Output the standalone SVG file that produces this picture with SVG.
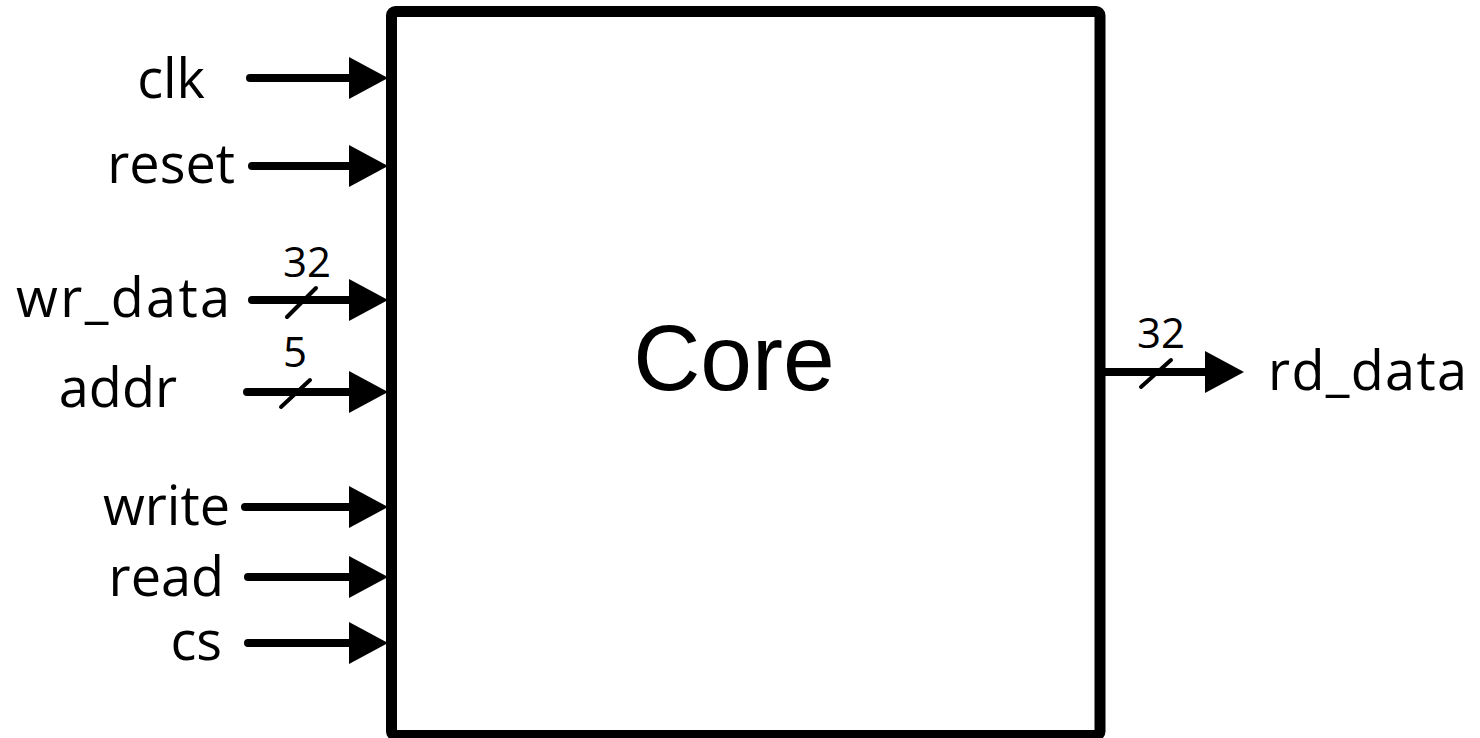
<svg xmlns="http://www.w3.org/2000/svg" width="1480" height="738" viewBox="0 0 1480 738">
  <style>
    .lbl { font-family: "Open Sans", "Noto Sans", sans-serif; font-size: 54px; fill: #000; }
    .bus { font-family: "Open Sans", "Noto Sans", sans-serif; font-size: 42px; fill: #000; text-anchor: middle; }
    .title { font-family: "Liberation Sans", Arial, sans-serif; font-size: 93px; fill: #000; text-anchor: middle; }
    .wire { fill: none; stroke: #000; stroke-width: 8; stroke-linecap: round; marker-end: url(#head); }
    .slash { stroke: #000; stroke-width: 4; stroke-linecap: round; }
  </style>
  <defs>
    <marker id="head" markerUnits="userSpaceOnUse" markerWidth="40" markerHeight="44" refX="0" refY="21" orient="auto" overflow="visible">
      <path d="M0,0 L39,21 L0,42 Z" fill="#000"/>
    </marker>
  </defs>
  <rect width="1480" height="738" fill="#fff"/>

  <!-- core block -->
  <g id="core">
    <rect x="391.5" y="11.5" width="708.5" height="724" rx="4" fill="#fff" stroke="#000" stroke-width="11"/>
    <text class="title" x="734" y="390">Core</text>
  </g>

  <!-- port wires -->
  <g id="connectors">
    <path class="wire" d="M250,78 H349"/>
    <path class="wire" d="M252,166 H349"/>
    <path class="wire" d="M252,300 H349"/>
    <line class="slash" x1="287" y1="317" x2="316" y2="288"/>
    <path class="wire" d="M247,392 H349"/>
    <line class="slash" x1="281" y1="407" x2="310" y2="380"/>
    <path class="wire" d="M245,507 H349"/>
    <path class="wire" d="M248,577 H349"/>
    <path class="wire" d="M248,643 H349"/>
    <path class="wire" d="M1100,372 H1205" style="stroke-linecap:butt"/>
    <line class="slash" x1="1141" y1="387" x2="1171" y2="360"/>
  </g>

  <!-- port labels -->
  <g id="clk"><text class="lbl" x="205" y="98" text-anchor="end">clk</text></g>
  <g id="reset"><text class="lbl" x="235" y="183" text-anchor="end">reset</text></g>
  <g id="wr_data">
    <text class="lbl" x="16" y="317" textLength="214" lengthAdjust="spacing">wr_data</text>
    <text class="bus" x="307" y="277">32</text>
  </g>
  <g id="addr">
    <text class="lbl" x="177" y="407" text-anchor="end">addr</text>
    <text class="bus" x="295" y="367">5</text>
  </g>
  <g id="write"><text class="lbl" x="230" y="525" text-anchor="end">write</text></g>
  <g id="read"><text class="lbl" x="224" y="596" text-anchor="end">read</text></g>
  <g id="cs"><text class="lbl" x="222" y="660" text-anchor="end">cs</text></g>
  <g id="rd_data">
    <text class="lbl" x="1268" y="390" textLength="199" lengthAdjust="spacing">rd_data</text>
    <text class="bus" x="1161" y="348">32</text>
  </g>
</svg>
